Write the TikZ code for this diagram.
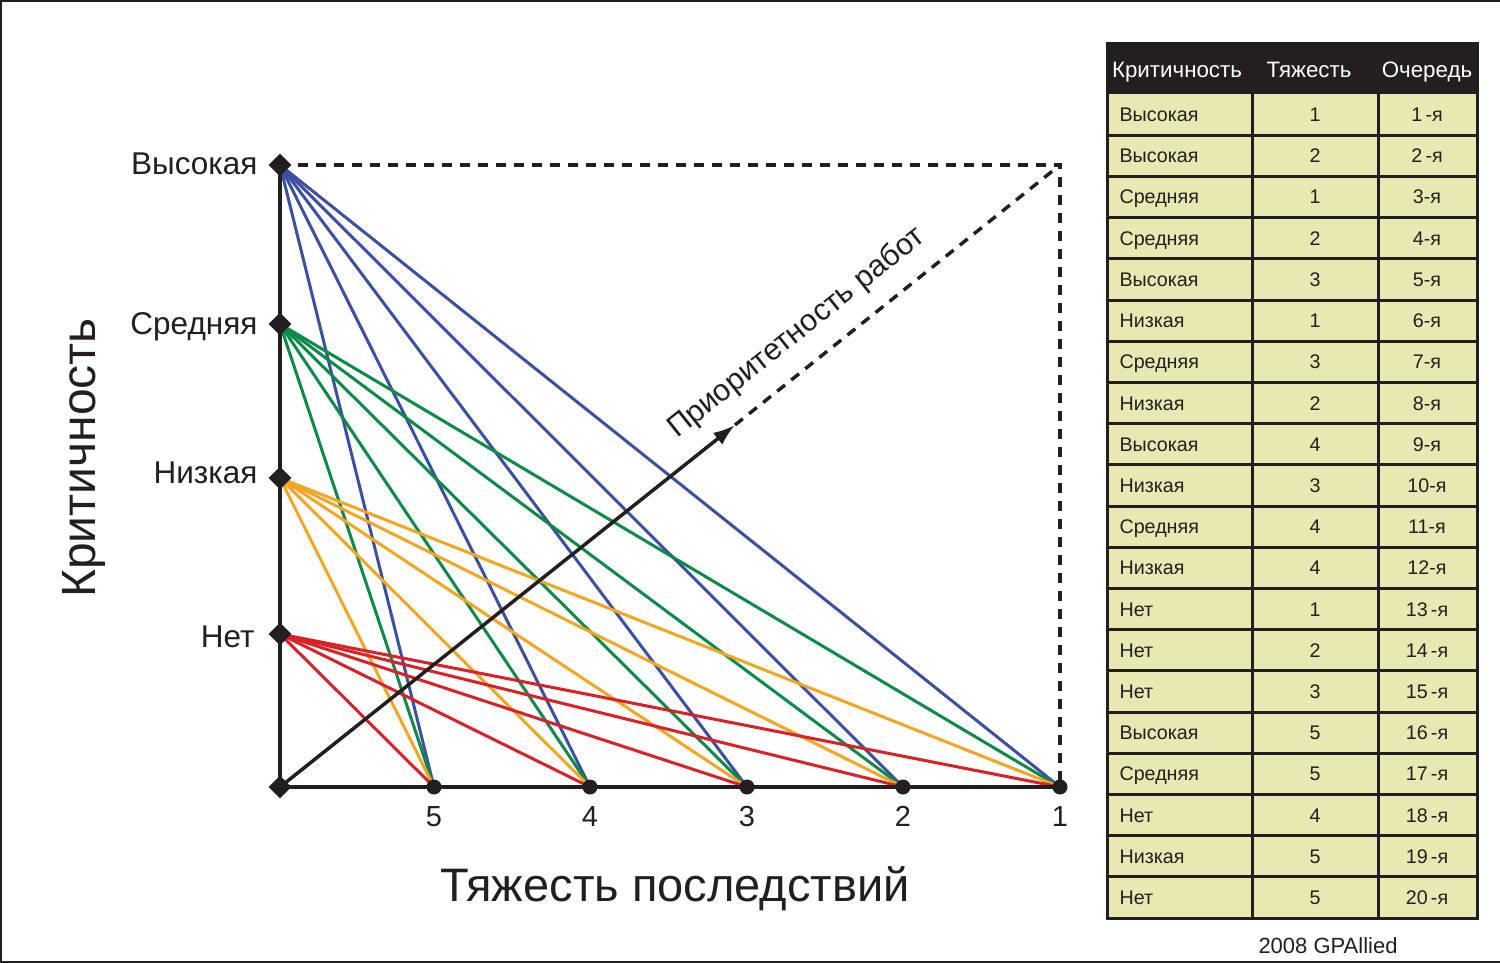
\documentclass[tikz,border=0pt]{standalone}
\usepackage{fontspec}
\setmainfont{Liberation Sans}
\usetikzlibrary{shapes.geometric,arrows.meta}
\definecolor{ink}{HTML}{231F20}
\definecolor{cblue}{HTML}{3B4FA3}
\definecolor{cgreen}{HTML}{0B8A48}
\definecolor{corange}{HTML}{F4A623}
\definecolor{cred}{HTML}{DA2128}
\definecolor{cellfill}{HTML}{E8E9B2}
\newcommand{\fs}[1]{\fontsize{#1}{#1}\selectfont}
\begin{document}
\begin{tikzpicture}[x=1pt,y=-1pt,
  conn/.style={line width=3pt},
  axisline/.style={ink,line width=4pt},
  dashline/.style={ink,line width=3.5pt,dash pattern=on 10pt off 8pt},
  diam/.style={diamond,fill=ink,inner sep=0pt,minimum width=23pt,minimum height=23pt},
  dotmark/.style={circle,fill=ink,inner sep=0pt,minimum size=15pt},
  lvl/.style={anchor=base east,text=ink,font=\fs{31.5}},
  tick/.style={anchor=base,text=ink,font=\fs{29}},
  grid/.style={ink,line width=3pt},
  hdr/.style={anchor=base,text=white,font=\fs{22.3}},
  cella/.style={anchor=base west,text=ink,font=\fs{19.7}},
  cellb/.style={anchor=base,text=ink,font=\fs{19.7}}]
\useasboundingbox (0,0) rectangle (1500,963);
\fill[white] (0,0) rectangle (1500,963);
\draw[ink,line width=2pt] (1500,1) -- (1,1) -- (1,962) -- (1500,962);

% key points
\coordinate (O) at (280,787);
\coordinate (H) at (280,165);
\coordinate (M) at (280,324);
\coordinate (L) at (280,478);
\coordinate (N) at (280,634);
\coordinate (s5) at (434,787);
\coordinate (s4) at (590,787);
\coordinate (s3) at (747,787);
\coordinate (s2) at (903,787);
\coordinate (s1) at (1060,787);
\coordinate (TR) at (1060,165);
\coordinate (A) at (735,425);

% coloured connectors
\foreach \s in {s5,s4,s3,s2,s1} \draw[conn,cblue] (H) -- (\s);
\foreach \s in {s5,s4,s3,s2,s1} \draw[conn,cgreen] (M) -- (\s);
\foreach \s in {s5,s4,s3,s2,s1} \draw[conn,corange] (L) -- (\s);
\foreach \s in {s5,s4,s3,s2,s1} \draw[conn,cred] (N) -- (\s);

% dashed frame and priority line
\draw[dashline] (H) -- (TR) -- (s1);
\draw[dashline] (A) -- (TR);
\draw[axisline,line width=3.5pt,-{Latex[length=22pt,width=15pt]}] (O) -- (A);

% axes
\draw[axisline] (H) -- (O) -- (s1);

% markers
\node[diam] (dH) at (H) {};
\node[diam] (dM) at (M) {};
\node[diam] (dL) at (L) {};
\node[diam] (dN) at (N) {};
\node[diam] (dO) at (O) {};
\foreach \s in {s5,s4,s3,s2,s1} \node[dotmark] (d\s) at (\s) {};

% level labels
\node[lvl] (lH) at (261,175) {Высокая};
\node[lvl] (lM) at (261,334) {Средняя};
\node[lvl] (lL) at (261,483) {Низкая};
\node[lvl] (lN) at (258,647) {Нет};

% tick labels
\node[tick] (t5) at (434,826) {5};
\node[tick] (t4) at (590,826) {4};
\node[tick] (t3) at (747,826) {3};
\node[tick] (t2) at (903,826) {2};
\node[tick] (t1) at (1060,826) {1};

% axis titles
\node[rotate=90,anchor=base,text=ink,font=\fs{48}] (ytitle) at (95,458) {Критичность};
\node[anchor=base,text=ink,font=\fs{47}] (xtitle) at (675,901) {Тяжесть последствий};
\node[rotate=38.6,text=ink,font=\fs{30.5}] (prio) at (797,333) {Приоритетность работ};

% table
\fill[cellfill] (1107,44) rectangle (1477,918);
\fill[ink] (1107,44) rectangle (1477,94);
\foreach \k in {1,...,19} \draw[grid] (1107,94+41.2*\k) -- (1477,94+41.2*\k);
\draw[grid] (1252,94) -- (1252,918);
\draw[grid] (1378,94) -- (1378,918);
\draw[grid] (1107,44) rectangle (1477,918);

\node[hdr] (h1) at (1177,78) {Критичность};
\node[hdr] (h2) at (1309,78) {Тяжесть};
\node[hdr] (h3) at (1427,78) {Очередь};

\foreach \i/\a/\b/\c in {
  1/Высокая/1/1\,-я, 2/Высокая/2/2\,-я, 3/Средняя/1/3-я, 4/Средняя/2/4-я,
  5/Высокая/3/5-я, 6/Низкая/1/6-я, 7/Средняя/3/7-я, 8/Низкая/2/8-я,
  9/Высокая/4/9-я, 10/Низкая/3/10-я, 11/Средняя/4/11-я, 12/Низкая/4/12-я,
  13/Нет/1/13\,-я, 14/Нет/2/14\,-я, 15/Нет/3/15\,-я, 16/Высокая/5/16\,-я,
  17/Средняя/5/17\,-я, 18/Нет/4/18\,-я, 19/Низкая/5/19\,-я, 20/Нет/5/20\,-я} {
  \pgfmathsetmacro{\yy}{94+41.2*(\i-0.5)+7}
  \node[cella] (ra\i) at (1116,\yy) {\a};
  \node[cellb] (rb\i) at (1315,\yy) {\b};
  \node[cellb] (rc\i) at (1427,\yy) {\c};
}

\node[anchor=base,text=ink,font=\fs{22}] (credit) at (1328,953) {2008 GPAllied};
\end{tikzpicture}
\end{document}
